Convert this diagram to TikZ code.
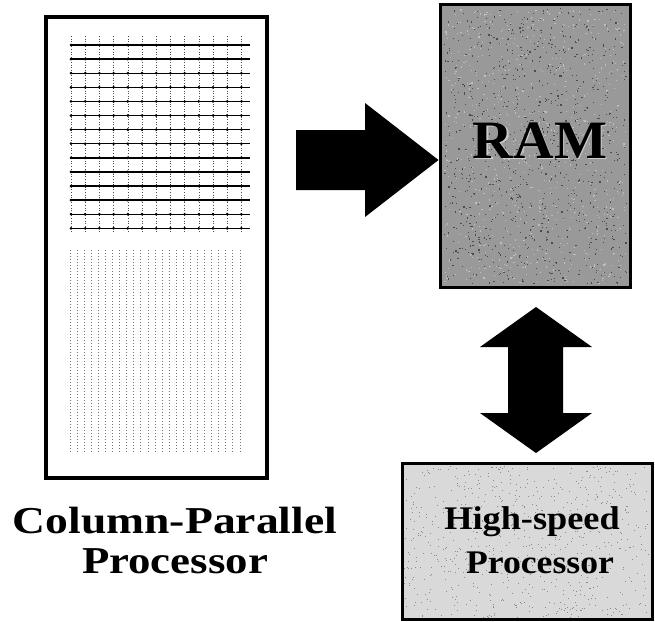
\documentclass[tikz,border=0pt]{standalone}
\usepackage{fontspec}
\setmainfont{Liberation Serif}
\begin{document}
\begin{tikzpicture}[x=1pt,y=-1pt,
  blockbox/.style={draw=black,line width=4.5pt,inner sep=0pt},
  bigarrow/.style={fill=black,draw=none},
  gridh/.style={black,line width=1.4pt},
  gridv/.style={black!70,line width=0.6pt,dotted},
  lowv/.style={black!55,line width=0.7pt,dash pattern=on 0.8pt off 2.2pt},
  lbl/.style={font=\bfseries\fontsize{38}{38}\selectfont,anchor=base,inner sep=0pt},
  boxtxt/.style={font=\bfseries\fontsize{33}{33}\selectfont,anchor=base,inner sep=0pt}]
\useasboundingbox (0,0) rectangle (655,621);
% Column-parallel processor box
\node[blockbox,fill=white,minimum width=221pt,minimum height=461pt] (cpp) at (156.5,247.5) {};
% grid
\foreach \j in {0,...,13} {
  \draw[gridh] (70,{45+14.1*\j}) -- (250,{45+14.1*\j});
}
\foreach \i in {0,...,12} {
  \draw[gridv] ({71+14.2*\i},36) -- ({71+14.2*\i},233);
  \foreach \j in {0,...,13} {
    \fill ({71+14.2*\i},{45+14.1*\j}) circle (1.5);
  }
}
% lower dotted columns
\foreach \i in {0,...,24} {
  \draw[lowv] ({70+7.08*\i},250) -- ({70+7.08*\i},452);
}
% RAM box
\pgfmathsetseed{7}
\node[blockbox,line width=3pt,fill=black!40,minimum width=190pt,minimum height=283pt] (ram) at (535,145.5) {};
\foreach \k in {1,...,900} {
  \pgfmathsetmacro\rx{444+182*rnd}
  \pgfmathsetmacro\ry{8+275*rnd}
  \fill[black!70] (\rx,\ry) rectangle ++(1.2,1.2);
}
\foreach \k in {1,...,700} {
  \pgfmathsetmacro\rx{444+182*rnd}
  \pgfmathsetmacro\ry{8+275*rnd}
  \fill[white!75!black] (\rx,\ry) rectangle ++(1.2,1.2);
}
\node[font=\bfseries\fontsize{54}{54}\selectfont,anchor=base,inner sep=0pt,text=white!80!black] at (541.5,159.5) {\scalebox{1.04}[1]{RAM}};
\node[font=\bfseries\fontsize{54}{54}\selectfont,anchor=base,inner sep=0pt] (ramtxt) at (540,158) {\scalebox{1.04}[1]{RAM}};
% High-speed processor box
\node[blockbox,line width=3pt,fill=black!15,minimum width=250pt,minimum height=156pt] (hsp) at (527,541) {};
\foreach \k in {1,...,700} {
  \pgfmathsetmacro\rx{404+244*rnd}
  \pgfmathsetmacro\ry{466+151*rnd}
  \fill[black!45] (\rx,\ry) rectangle ++(1,1);
}
\node[boxtxt] (hsptxt1) at (532,529) {\scalebox{1.1}[1]{High-speed}};
\node[boxtxt] (hsptxt2) at (540,573) {\scalebox{1.08}[1]{Processor}};
% arrows
\coordinate (a1) at (296,160);
\fill[bigarrow] (296,130) -- (365,130) -- (365,103) -- (ram.west |- a1) -- (365,217) -- (365,190) -- (296,190) -- cycle;
\coordinate (a2t) at (536,307);
\coordinate (a2b) at (536,453);
\fill[bigarrow] (a2t) -- (592,347) -- (563,347) -- (563,413) -- (592,413) -- (a2b) -- (480,413) -- (508,413) -- (508,347) -- (480,347) -- cycle;
% label
\node[lbl] (cpplbl1) at (175,533) {\scalebox{1.2}[1]{Column-Parallel}};
\node[lbl] (cpplbl2) at (175,573) {\scalebox{1.18}[1]{Processor}};
\end{tikzpicture}
\end{document}
